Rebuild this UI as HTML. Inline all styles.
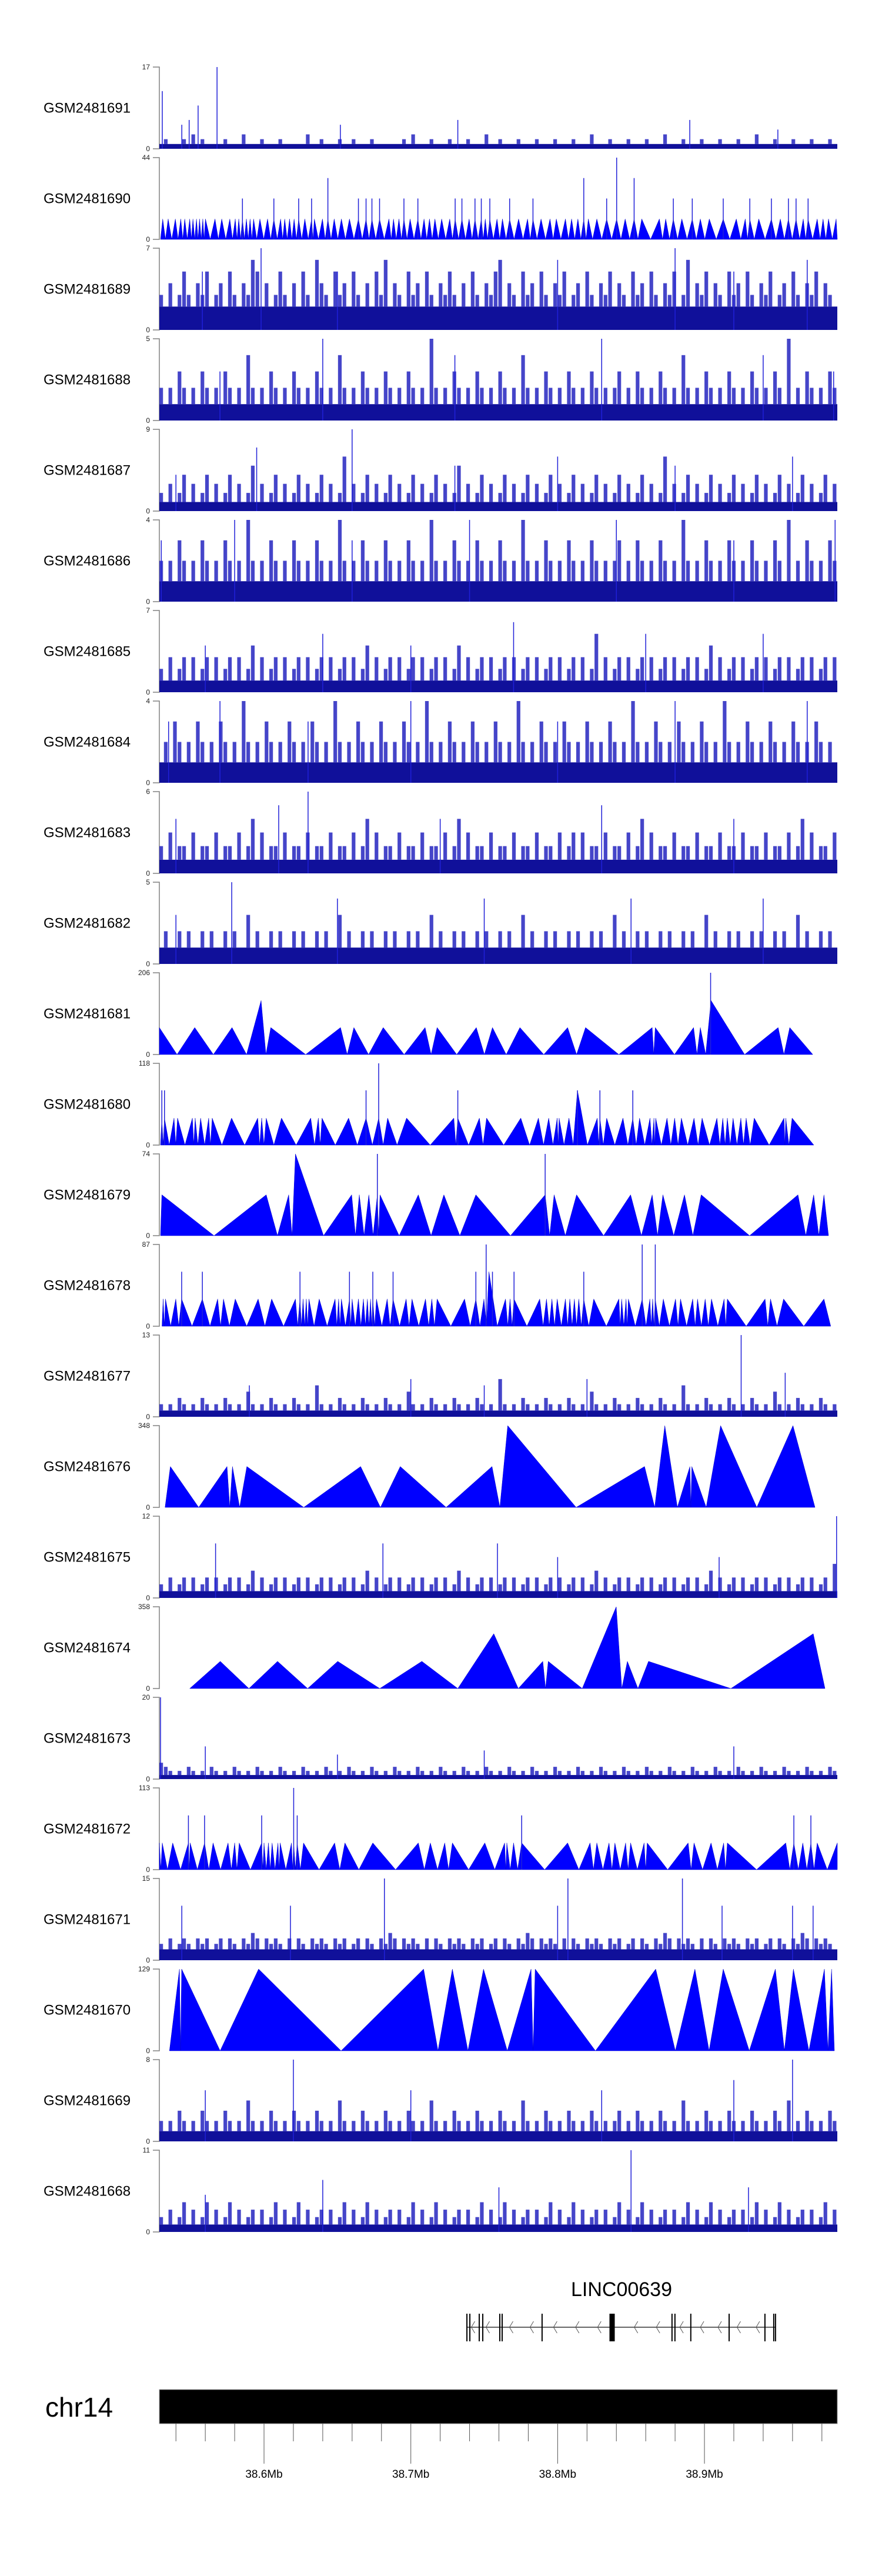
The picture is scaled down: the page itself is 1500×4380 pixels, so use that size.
<!DOCTYPE html>
<html><head><meta charset="utf-8">
<style>
html,body{margin:0;padding:0;background:#fff;}
svg{display:block;}
text{font-family:"Liberation Sans",Arial,sans-serif;}
</style></head>
<body>
<svg id="chart" width="1500" height="4380" viewBox="0 0 1500 4380" xmlns="http://www.w3.org/2000/svg"></svg>
<script>
// ---------- data ----------
const trackNames = ["GSM2481691","GSM2481690","GSM2481689","GSM2481688","GSM2481687","GSM2481686","GSM2481685","GSM2481684","GSM2481683","GSM2481682","GSM2481681","GSM2481680","GSM2481679","GSM2481678","GSM2481677","GSM2481676","GSM2481675","GSM2481674","GSM2481673","GSM2481672","GSM2481671","GSM2481670","GSM2481669","GSM2481668"];
const trackMax = [17,44,7,5,9,4,7,4,6,5,206,118,74,87,13,348,12,358,20,113,15,129,8,11];
const trackKind = ["n","t","n","n","n","n","n","n","n","n","t","t","t","t","n","t","n","t","n","t","n","t","n","n"];
const trackFloor = [1,0,2,1,1,1,1,1,1,1,0,0,0,0,1,0,1,0,1,0,2,0,1,1];

// noisy coverage strings (base36 values per bin)
const noise = {
"GSM2481691":"1211121312111121113111211121111131121112112111211111121311121112111211131121112111211121112111311121112111211131112111211121112111311121112111211121",
"GSM2481689":"3242353243523425324365242353242532643253425324253624325342532435324253243562432534253243523425324352432534253243523624352432534253243523425324352432",
"GSM2481688":"2121321213212132121421213212132121321214212132121321213212152121321213212132121421213212132121321212312132121321214212132121321213212132151213212132",
"GSM2481687":"2131241312413124131251312413124131241312613124131241312413124131251312413124131241312413124131241312413124131261312413124131241312413124131241312413",
"GSM2481686":"2121321213212132121421213212132121321214212132121321213212142121321213212132121421213212132121321212312132121321214212132121321213212132141213212132",
"GSM2481685":"2131231312313123131241312313123131231312313124131231312313123131241312313123131231312313123131251312313123131231312313124131231312313123131231312313",
"GSM2481684":"1213212132121321214212132121321213212142121321213212132121421213212132121321214212132121321213212132121421213212132121321214212132121321213212132121",
"GSM2481683":"2131221312213122131241312213122131221312213124131221312213122131241312213122131221312213123131221312213124131221312213122131221312213122131241312213",
"GSM2481682":"1211212112121121211312112121121211212113121121211212112121131211212112121121211312112121121211212113121121211212112121131211212112121121211312112121",
"GSM2481677":"2121321213212132121421213212132121521213212132121321214212132121321213212162121321213212132121421213212132121321215212132121321213212142121321213212",
"GSM2481675":"2131231312313123131241312313123131231312313124131231312313123131241312313123131231312313123131241312313123131231312313124131231312313123131231312315",
"GSM2481673":"4321213212132121321213212132121321213212132121321213212132121321213212132121321213212132121321213212132121321213212132121321213212132121321213212132",
"GSM2481671":"3242343243423424324354243432424324343243423424324354243432424324343243423424324354243432424324343243423424324354243432424324343243423424324354243432",
"GSM2481669":"2121321213212132121421213212132121321214212132121321213212142121321213212132121421213212132121321212312132121321214212132121321213212132141213212132",
"GSM2481668":"2131241312413124131231312413124131231312413124131231312413124131231312413124131231312413124131231312413124131231312413124131231312413124131231312413"
};

// spikes [kb, value]
const spikes = {
"GSM2481691":[[30.7,12],[44,5],[49,6],[55.1,9],[68,17],[152,5],[232,6],[390,6],[450,4]],
"GSM2481690":[[85.3,22],[106.7,22],[123.6,22],[132.4,22],[143.5,33],[164.3,22],[169.5,22],[173.5,22],[178.7,22],[195.3,22],[204.8,22],[230.2,22],[234.8,22],[243.7,22],[248,22],[253.8,22],[267.3,22],[283.2,22],[317.8,33],[333.4,22],[340.2,44],[352.1,33],[378.8,22],[391.7,22],[412.8,22],[430.9,22],[445.6,22],[457.2,22],[462.4,22],[470.6,22]],
"GSM2481689":[[58,5],[98,7],[150,5],[300,6],[380,7],[420,5],[470,6]],
"GSM2481688":[[70,3],[140,5],[230,4],[330,5],[440,4],[488,3]],
"GSM2481687":[[40,4],[95,7],[160,9],[230,5],[300,6],[380,5],[460,6]],
"GSM2481686":[[30,3],[80,4],[160,3],[240,4],[340,4],[420,3],[489,4]],
"GSM2481685":[[60,4],[140,5],[200,4],[270,6],[360,5],[440,5]],
"GSM2481684":[[35,3],[70,4],[130,3],[200,4],[300,3],[380,4],[470,4]],
"GSM2481683":[[40,4],[110,5],[130,6],[220,4],[330,5],[420,4]],
"GSM2481682":[[40,3],[78,5],[150,4],[250,4],[350,4],[440,4]],
"GSM2481681":[[404.2,206]],
"GSM2481680":[[30.4,79],[32.2,79],[169.5,79],[178.1,118],[232,79],[313.5,79],[328.8,79],[351.2,79]],
"GSM2481679":[[177.2,74],[291.5,74]],
"GSM2481678":[[43.9,58],[58,58],[124.5,58],[158.2,58],[174.1,58],[187.9,58],[244.3,58],[251.3,87],[255.6,58],[270.3,58],[317.8,58],[357.6,87],[366.5,87]],
"GSM2481677":[[90,5],[200,6],[250,5],[320,6],[425,13],[455,7]],
"GSM2481675":[[67,8],[181,8],[259,8],[300,6],[410,6],[490,12]],
"GSM2481673":[[29.5,20],[60,8],[150,6],[250,7],[420,8]],
"GSM2481672":[[48.5,75],[59.5,75],[98.4,75],[120.2,113],[122.6,75],[275.5,75],[460.9,75],[472.5,75]],
"GSM2481671":[[44,10],[118,10],[182,15],[300,10],[307,15],[385,15],[412,10],[460,10],[474,10]],
"GSM2481669":[[60,5],[120,8],[200,5],[330,5],[420,6],[460,8]],
"GSM2481668":[[60,5],[140,7],[260,6],[350,11],[430,6]]
};

// triangle peaks [kb, value]; valleys between peaks at midpoints
const peaks = {
"GSM2481690":[[31,11],[34.7,11],[39.6,11],[43.3,11],[46,11],[49.4,11],[51.6,11],[54,11],[56.1,11],[58.3,11],[60.1,11],[66.6,11],[71.2,11],[76.7,11],[80.4,11],[82.8,11],[85.3,11],[88,11],[90.5,11],[92.9,11],[97.2,11],[102.4,11],[106.7,11],[111.3,11],[114.1,11],[117.4,11],[120.5,11],[123.6,11],[127.8,11],[132.4,11],[134.3,11],[139.8,11],[143.5,11],[147.8,11],[152.7,11],[158.2,11],[164.3,11],[169.5,11],[173.5,11],[178.7,11],[185.1,11],[188.2,11],[191.9,11],[195.3,11],[199.5,11],[204.8,11],[209,11],[212.7,11],[216.4,11],[221,11],[226.5,11],[230.2,11],[234.8,11],[239.7,11],[243.7,11],[248,11],[250.7,11],[253.8,11],[258.7,11],[262.4,11],[267.3,11],[273.4,11],[279.5,11],[283.2,11],[288.7,11],[294.8,11],[299.1,11],[305.3,11],[309.5,11],[313.8,11],[317.8,11],[320.9,11],[326.7,11],[333.4,11],[340.2,11],[346,11],[352.1,11],[357.3,11],[369.3,11],[373.6,11],[378.8,11],[384.6,11],[391.7,11],[397.2,11],[403.3,11],[412.8,11],[421.7,11],[427.8,11],[430.9,11],[437,11],[445.6,11],[451.7,11],[457.2,11],[462.4,11],[467.3,11],[470.6,11],[476.8,11],[480.8,11],[484.5,11],[489.7,11]],
"GSM2481681":[[28.7,68],[52.8,68],[78.2,68],[98,136],[104.6,68],[152.1,68],[161.2,68],[181.2,68],[209.7,68],[217.9,68],[244.6,68],[255.6,68],[274.3,68],[306.8,68],[319,68],[364.4,68],[366.5,68],[392.6,68],[397.2,68],[404.5,136],[450.2,68],[458.1,68]],
"GSM2481680":[[30.4,39],[32.2,39],[38.7,39],[41.1,39],[51.2,39],[53.1,39],[56.8,39],[62.3,39],[64.7,39],[77.9,39],[95.7,39],[98.4,39],[101.5,39],[111.9,39],[131.8,39],[137,39],[139.5,39],[157.6,39],[169.5,39],[178.1,39],[184.2,39],[197.1,39],[229.3,39],[232,39],[246.7,39],[251.6,39],[274.9,39],[286.9,39],[293.9,39],[299.7,39],[301,39],[307.7,39],[313.5,79],[327,39],[328.8,39],[333.4,39],[344.5,39],[351.2,39],[355.8,39],[362.9,39],[365.6,39],[366.8,39],[374.5,39],[379.7,39],[384.3,39],[392.9,39],[398.4,39],[408.5,39],[412.5,39],[415.6,39],[419.5,39],[424.8,39],[428.4,39],[433.9,39],[454.2,39],[455.4,39],[459.7,39]],
"GSM2481679":[[30.4,37],[101.5,37],[116.8,37],[121.4,74],[159.7,37],[164.9,37],[171.4,37],[177.2,37],[179,37],[205.1,37],[222.5,37],[244.3,37],[291.5,37],[297.6,37],[312.9,37],[349.7,37],[364.4,37],[371.7,37],[386.4,37],[397.8,37],[463.7,37],[474.4,37],[481.4,37]],
"GSM2481678":[[31.3,29],[32.9,29],[39.9,29],[43.9,29],[58,29],[68.4,29],[72.4,29],[80.4,29],[96,29],[105.2,29],[121.4,29],[124.5,29],[126.6,29],[128.8,29],[130.6,29],[137.6,29],[148.4,29],[150.8,29],[152.7,29],[158.2,29],[160,29],[164.3,29],[167.7,29],[170.4,29],[172.6,29],[174.1,29],[176.6,29],[183.9,29],[187.9,29],[196.8,29],[200.8,29],[210,29],[214.3,29],[217.9,29],[236.6,29],[244.3,29],[249.8,29],[253.2,58],[264.5,29],[267.6,29],[270.3,29],[287.8,29],[292.4,29],[296.1,29],[299.7,29],[305.3,29],[308.3,29],[311.4,29],[314.4,29],[317.8,29],[324.6,29],[341.7,29],[343.6,29],[346.6,29],[348.2,29],[357.6,29],[362.8,29],[364.7,29],[366.5,29],[372,29],[380.3,29],[383.7,29],[392,29],[395.3,29],[400.5,29],[404.8,29],[413.4,29],[415.6,29],[441.3,29],[445,29],[453.9,29],[481.4,29]],
"GSM2481676":[[36.2,174],[74.8,174],[78.5,174],[88.3,174],[165.8,174],[192.8,174],[255.3,174],[266,348],[359.2,174],[373,348],[390.1,174],[391.4,174],[411,348],[460.3,348]],
"GSM2481674":[[70.2,119],[109.2,119],[150.2,119],[207.5,119],[256.5,240],[289.9,119],[293.6,119],[339.9,358],[347.5,119],[361.9,119],[474.1,240]],
"GSM2481672":[[28.7,37],[30.7,37],[37.8,37],[48.5,37],[49.7,37],[59.5,37],[65.3,37],[75.5,37],[80,37],[83.1,37],[98.4,37],[100,37],[103,37],[105.5,37],[109.5,37],[111,37],[118.7,37],[120.2,37],[122.6,37],[126.9,37],[148.1,37],[155.1,37],[174.1,37],[205.1,37],[213.3,37],[223.1,37],[228.3,37],[250.4,37],[263.9,37],[265.4,37],[270,37],[275.5,37],[306.8,37],[322.1,37],[326.7,37],[335,37],[339,37],[346.3,37],[349.7,37],[358.9,37],[361,37],[388.9,37],[392.9,37],[404.5,37],[413.1,37],[415.6,37],[455.4,37],[460.9,37],[467,37],[472.5,37],[476.8,37],[490.5,37]],
"GSM2481670":[[42.4,129],[43.9,129],[96.3,129],[208.7,129],[228.3,129],[249.5,129],[281.9,129],[284.7,129],[366.8,129],[393.5,129],[412.8,129],[448.3,129],[460.6,129],[481.7,129],[486.6,129]]
};
const triStart = {"GSM2481690":29.5,"GSM2481681":28.7,"GSM2481680":29.5,"GSM2481679":29.5,"GSM2481678":30.5,"GSM2481676":32.6,"GSM2481674":49.4,"GSM2481672":28.7,"GSM2481670":35.6};
const triEnd = {"GSM2481690":490.5,"GSM2481681":473.8,"GSM2481680":474.5,"GSM2481679":484.5,"GSM2481678":486,"GSM2481676":475.3,"GSM2481674":482.1,"GSM2481672":490.5,"GSM2481670":488.5};

// gene model (kb offsets from 38.5 Mb)
const geneStart = 238.2, geneEnd = 448.4;
const exonPos = [238.2,240.2,246.6,249.0,260.6,262.2,289.4,377.9,379.9,390.7,416.8,441.2,447.2,448.4];
const bigExon = [335.3,338.9];
const arrowPos = [242,252,268,282,298,313,328,353,368,384,398,410,423,436];

// axis
const majorTicks = [100,200,300,400];
const majorLabels = ["38.6Mb","38.7Mb","38.8Mb","38.9Mb"];
const minorTicks = [40,60,80,120,140,160,180,220,240,260,280,320,340,360,380,420,440,460,480];

// ---------- layout ----------
const X0 = 271, X1 = 1424, KB0 = 28.7, KB1 = 490.5;
const sx = kb => X0 + (kb - KB0) * (X1 - X0) / (KB1 - KB0);
const TOP0 = 114, STEP = 154, H = 139;
const NS = "http://www.w3.org/2000/svg";
const svg = document.getElementById("chart");
function mk(tag, attrs, parent) {
  const e = document.createElementNS(NS, tag);
  for (const k in attrs) e.setAttribute(k, attrs[k]);
  (parent || svg).appendChild(e);
  return e;
}

trackNames.forEach((name, i) => {
  const top = TOP0 + STEP * i, zero = top + H, max = trackMax[i];
  const sy = v => zero - (v / max) * H;
  const g = mk("g", {});
  
  
  const lbl = mk("text", {x: 74, y: top + H / 2 + 8, "font-size": 24, fill: "#000"}, g);
  lbl.textContent = name;
  
  
  const ax = mk("path", {d: `M260 ${top}H271V${zero}H260`, fill: "none", stroke: "#808080", "stroke-width": 1.5}, g);
  
  
  const tMax = mk("text", {x: 255, y: top + 4, "font-size": 12, "text-anchor": "end", fill: "#222"}, g);
  tMax.textContent = String(max);
  
  
  const tMin = mk("text", {x: 255, y: zero + 4, "font-size": 12, "text-anchor": "end", fill: "#222"}, g);
  tMin.textContent = "0";
  
  

  if (trackKind[i] === "t") {
    const pk = peaks[name];
    let d = `M${sx(triStart[name])} ${zero}`;
    pk.forEach((p, j) => {
      if (j > 0) d += `L${sx((pk[j-1][0] + p[0]) / 2)} ${zero}`;
      d += `L${sx(p[0])} ${sy(p[1])}`;
    });
    d += `L${sx(triEnd[name])} ${zero}Z`;
    const poly = mk("path", {d: d, fill: "#0000ff", stroke: "#0000cc", "stroke-width": 0.5}, g);
    
    
  } else {
    const s = noise[name], n = s.length, bk = (KB1 - KB0) / n, fl = trackFloor[i];
    const base = mk("rect", {x: X0, y: sy(fl), width: X1 - X0, height: zero - sy(fl), fill: "#10109a"}, g);
    
    
    const w = (X1 - X0) / n;
    for (let j = 0; j < n; j++) {
      const v = parseInt(s[j], 36);
      if (v <= fl) continue;
      const x = sx(KB0 + j * bk);
      const r = mk("rect", {x: x, y: sy(v), width: w * 0.8, height: sy(fl) - sy(v), fill: "#2525c0", "fill-opacity": 0.85}, g);
      
      
    }
  }
  (spikes[name] || []).forEach(p => {
    const ln = mk("line", {x1: sx(p[0]), x2: sx(p[0]), y1: zero, y2: sy(p[1]), stroke: "#2020d8", "stroke-width": 1.5}, g);
    
    
  });
});

// gene track
const gg = mk("g", {});


const gl = mk("text", {x: 1057, y: 3904, "font-size": 34, "text-anchor": "middle", fill: "#000"}, gg);
gl.textContent = "LINC00639";


const gline = mk("line", {x1: sx(geneStart), x2: sx(geneEnd), y1: 3957, y2: 3957, stroke: "#333", "stroke-width": 1.5}, gg);


arrowPos.forEach(a => {
  const ar = mk("path", {d: `M${sx(a)+4} 3947L${sx(a)-2} 3957L${sx(a)+4} 3967`, fill: "none", stroke: "#555", "stroke-width": 1}, gg);
  
  
});
exonPos.forEach(e => {
  const ex = mk("line", {x1: sx(e), x2: sx(e), y1: 3934, y2: 3981, stroke: "#000", "stroke-width": 2}, gg);
  
  
});
const be = mk("rect", {x: sx(bigExon[0]), y: 3934, width: sx(bigExon[1]) - sx(bigExon[0]), height: 47, fill: "#000"}, gg);



// chromosome axis
const cg = mk("g", {});


const cl = mk("text", {x: 77, y: 4109, "font-size": 46, fill: "#000"}, cg);
cl.textContent = "chr14";


const cb = mk("rect", {x: X0, y: 4063, width: X1 - X0, height: 58, fill: "#000", stroke: "#999", "stroke-width": 1}, cg);


minorTicks.forEach(t => {
  const l = mk("line", {x1: sx(t), x2: sx(t), y1: 4121, y2: 4151, stroke: "#555", "stroke-width": 1}, cg);
  
  
});
majorTicks.forEach((t, k) => {
  const l = mk("line", {x1: sx(t), x2: sx(t), y1: 4121, y2: 4189, stroke: "#555", "stroke-width": 1}, cg);
  
  
  const tx = mk("text", {x: sx(t), y: 4213, "font-size": 19, "text-anchor": "middle", fill: "#000"}, cg);
  tx.textContent = majorLabels[k];
  
  
});
</script>
</body></html>
